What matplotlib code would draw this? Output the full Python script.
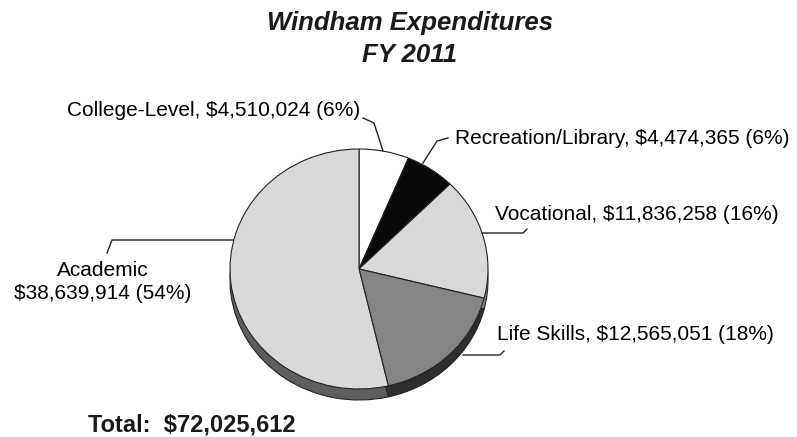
import matplotlib.pyplot as plt

plt.rcParams['font.family'] = ['Liberation Sans', 'DejaVu Sans']

# data
categories = ['College-Level', 'Recreation/Library', 'Vocational', 'Life Skills', 'Academic']
amounts = [4510024, 4474365, 11836258, 12565051, 38639914]
percents = [6, 6, 16, 18, 54]
total = 72025612

top_colors = ['#ffffff', '#0a0a0a', '#d9d9d9', '#858585', '#d9d9d9']
side_colors = ['#9a9a9a', '#0a0a0a', '#8a8a8a', '#2e2e2e', '#5e5e5e']

W, H = 797, 437
fig = plt.figure(figsize=(W / 100, H / 100), dpi=100)

# pie top face in pixels (from top-left)
cx, cy, rx, ry = 359, 269, 129, 120
depth = 11

pax = fig.add_axes([(cx - rx) / W, (H - cy - ry) / H, 2 * rx / W, 2 * ry / H])
side, _ = pax.pie(amounts, colors=side_colors, startangle=90, counterclock=False,
                  center=(0, -depth / ry), radius=1,
                  wedgeprops=dict(edgecolor='#222222', linewidth=0.8))
top, _ = pax.pie(amounts, colors=top_colors, startangle=90, counterclock=False,
                 radius=1, wedgeprops=dict(edgecolor='#222222', linewidth=0.8))
for w in side + top:
    w.set_clip_on(False)
pax.set_aspect('auto')
pax.set_xlim(-1, 1)
pax.set_ylim(-1, 1)
pax.axis('off')

# overlay in pixel coordinates for labels and leader lines
ax = fig.add_axes([0, 0, 1, 1])
ax.set_xlim(0, W)
ax.set_ylim(H, 0)
ax.axis('off')

fs = 15
lc = '#222222'

def money(v):
    return '${:,}'.format(v)

labels = ['%s, %s (%d%%)' % (c, money(a), p) for c, a, p in zip(categories, amounts, percents)]
labels[4] = '%s\n%s (%d%%)' % (categories[4], money(amounts[4]), percents[4])

# College-Level
ax.text(360, 111, labels[0], ha='right', va='center', fontsize=fs)
ax.plot([363, 374, 383], [118, 123, 151], color=lc, lw=1)
# Recreation/Library
ax.text(455, 139, labels[1], ha='left', va='center', fontsize=fs)
ax.plot([448, 437, 423], [138, 141, 163], color=lc, lw=1)
# Vocational
ax.text(495, 214, labels[2], ha='left', va='center', fontsize=fs)
ax.plot([527, 523, 482], [229, 233, 233], color=lc, lw=1)
# Life Skills
ax.text(497, 334, labels[3], ha='left', va='center', fontsize=fs)
ax.plot([504, 500, 463], [351, 355, 355], color=lc, lw=1)
# Academic
ax.text(103, 282, labels[4], ha='center', va='center', fontsize=fs, linespacing=1.3)
ax.plot([107, 112, 233], [253, 240, 240], color=lc, lw=1)

ax.text(410, 30, 'Windham Expenditures', ha='center', va='baseline',
        fontsize=18.5, fontweight='bold', fontstyle='italic', color='#1a1a1a')
ax.text(410, 62, 'FY 2011', ha='center', va='baseline',
        fontsize=18.5, fontweight='bold', fontstyle='italic', color='#1a1a1a')
ax.text(88, 425, 'Total:  ' + money(total), ha='left', va='center',
        fontsize=17, fontweight='bold', color='#1a1a1a')

fig.savefig('out.png', dpi=100)
